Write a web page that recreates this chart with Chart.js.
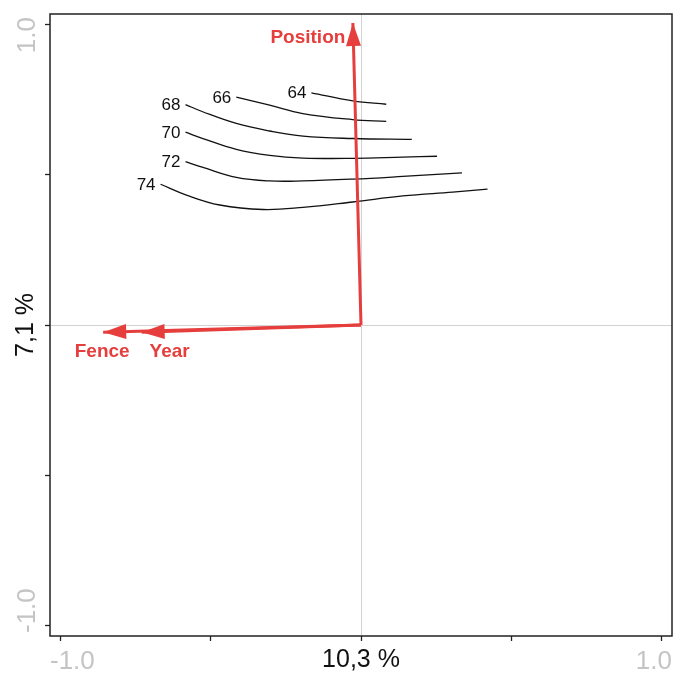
<!DOCTYPE html>
<html>
<head>
<meta charset="utf-8">
<script src="https://cdn.jsdelivr.net/npm/chart.js@4.4.1/dist/chart.umd.min.js"></script>
<style>
  body { margin: 0; background: #fff; }
  canvas { display: block; }
</style>
</head>
<body>
<canvas id="myChart" width="675" height="673"></canvas>
<script>
// axis
const tickValues = [-1, -0.5, 0, 0.5, 1];
const xEndLabels = ["-1.0", "1.0"];
const yEndLabels = ["-1.0", "1.0"];
const xTitle = "10,3 %";
const yTitle = "7,1 %";

// arrows (from origin to tip)
const arrowNames = ["Position", "Fence", "Year"];
const arrowX = [-0.027, -0.858, -0.73];
const arrowY = [1.004, -0.024, -0.024];

// contour lines
const contourLevels = ["64", "66", "68", "70", "72", "74"];
const contourX = [
  [-0.165, -0.027, 0.084],
  [-0.415, -0.304, -0.194, -0.028, 0.084],
  [-0.584, -0.527, -0.415, -0.304, -0.193, -0.027, 0.169],
  [-0.584, -0.526, -0.415, -0.304, -0.193, -0.027, 0.139, 0.253],
  [-0.584, -0.526, -0.415, -0.304, -0.193, -0.027, 0.139, 0.336],
  [-0.667, -0.581, -0.47, -0.326, -0.193, -0.027, 0.139, 0.305, 0.421],
];
const contourY = [
  [0.772, 0.745, 0.734],
  [0.758, 0.731, 0.703, 0.683, 0.677],
  [0.733, 0.709, 0.67, 0.645, 0.628, 0.62, 0.617],
  [0.641, 0.62, 0.584, 0.564, 0.555, 0.554, 0.558, 0.561],
  [0.543, 0.524, 0.491, 0.479, 0.479, 0.485, 0.494, 0.506],
  [0.468, 0.432, 0.399, 0.384, 0.391, 0.409, 0.429, 0.442, 0.452],
];

const red = "#e63e3c";
const FONT = "'Liberation Sans', Arial, sans-serif";
// label offsets from arrow tips, in pixels
const arrowLabelOffsets = [[-45, 15], [-1, 20], [28, 20]];

const datasets = [];
arrowNames.forEach((name, i) => {
  datasets.push({
    label: name,
    arrow: true,
    data: [{ x: 0, y: 0 }, { x: arrowX[i], y: arrowY[i] }],
    showLine: true,
    borderColor: red,
    borderWidth: 3,
    pointRadius: 0,
  });
});
contourLevels.forEach((lvl, i) => {
  datasets.push({
    label: lvl,
    contour: true,
    data: contourX[i].map((x, j) => ({ x: x, y: contourY[i][j] })),
    showLine: true,
    borderColor: "#111",
    borderWidth: 1.3,
    tension: 0.4,
    pointRadius: 0,
  });
});

// frame, arrow heads, text
const extras = {
  id: "extras",
  beforeDatasetsDraw(chart) {
    const { ctx, chartArea: a } = chart;
    ctx.save();
    ctx.strokeStyle = "#222";
    ctx.lineWidth = 1.5;
    ctx.strokeRect(a.left, a.top, a.right - a.left, a.bottom - a.top);
    ctx.restore();
  },
  afterDatasetsDraw(chart) {
    const { ctx, chartArea: a } = chart;
    ctx.save();
    chart.data.datasets.forEach((ds, i) => {
      const pts = chart.getDatasetMeta(i).data;
      if (ds.arrow) {
        const p0 = pts[pts.length - 2], p1 = pts[pts.length - 1];
        const ang = Math.atan2(p1.y - p0.y, p1.x - p0.x);
        const len = 23, hw = 7.5;
        const bx = p1.x - len * Math.cos(ang), by = p1.y - len * Math.sin(ang);
        ctx.fillStyle = red;
        ctx.beginPath();
        ctx.moveTo(p1.x, p1.y);
        ctx.lineTo(bx + hw * Math.sin(ang), by - hw * Math.cos(ang));
        ctx.lineTo(bx - hw * Math.sin(ang), by + hw * Math.cos(ang));
        ctx.closePath();
        ctx.fill();
        const k = arrowNames.indexOf(ds.label);
        ctx.font = "bold 19px " + FONT;
        ctx.textAlign = "center";
        ctx.textBaseline = "middle";
        ctx.fillText(ds.label, p1.x + arrowLabelOffsets[k][0], p1.y + arrowLabelOffsets[k][1]);
      }
      if (ds.contour) {
        ctx.fillStyle = "#111";
        ctx.font = "17px " + FONT;
        ctx.textAlign = "right";
        ctx.textBaseline = "middle";
        ctx.fillText(ds.label, pts[0].x - 5, pts[0].y + 1);
      }
    });
    // end tick labels
    ctx.fillStyle = "#c4c4c4";
    ctx.font = "26px " + FONT;
    ctx.textBaseline = "alphabetic";
    ctx.textAlign = "left";
    ctx.fillText(xEndLabels[0], a.left, 669);
    ctx.textAlign = "right";
    ctx.fillText(xEndLabels[1], a.right, 669);
    ctx.translate(35, a.bottom - 3);
    ctx.rotate(-Math.PI / 2);
    ctx.textAlign = "left";
    ctx.fillText(yEndLabels[0], 0, 0);
    ctx.rotate(Math.PI / 2);
    ctx.translate(0, a.top + 3 - (a.bottom - 3));
    ctx.rotate(-Math.PI / 2);
    ctx.textAlign = "right";
    ctx.fillText(yEndLabels[1], 0, 0);
    ctx.restore();
  },
};

const gridOpts = {
  color: (c) => (c.tick && c.tick.value === 0 ? "#d2d2d2" : "rgba(0,0,0,0)"),
  tickColor: "#222",
  tickLength: 5,
  lineWidth: 1,
  tickWidth: 1.3,
};

new Chart(document.getElementById("myChart"), {
  type: "scatter",
  data: { datasets: datasets },
  options: {
    responsive: false,
    animation: false,
    devicePixelRatio: 1,
    layout: { padding: { top: 14, right: 3, left: 0, bottom: 0 } },
    plugins: { legend: { display: false }, tooltip: { enabled: false } },
    scales: {
      x: {
        type: "linear",
        min: -1.035,
        max: 1.035,
        afterBuildTicks: (s) => { s.ticks = tickValues.map((v) => ({ value: v })); },
        afterFit: (s) => { s.height = 37; },
        ticks: { display: false },
        grid: gridOpts,
        border: { display: false },
        title: {
          display: true,
          text: xTitle,
          color: "#111",
          font: { family: FONT, size: 25 },
          padding: { top: 0, bottom: -2 },
        },
      },
      y: {
        type: "linear",
        min: -1.034,
        max: 1.034,
        afterBuildTicks: (s) => { s.ticks = tickValues.map((v) => ({ value: v })); },
        afterFit: (s) => { s.width = 50; },
        ticks: { display: false },
        grid: gridOpts,
        border: { display: false },
        title: {
          display: true,
          text: yTitle,
          color: "#111",
          font: { family: FONT, size: 25 },
          padding: { top: 11, bottom: 0 },
        },
      },
    },
  },
  plugins: [extras],
});
</script>
</body>
</html>
